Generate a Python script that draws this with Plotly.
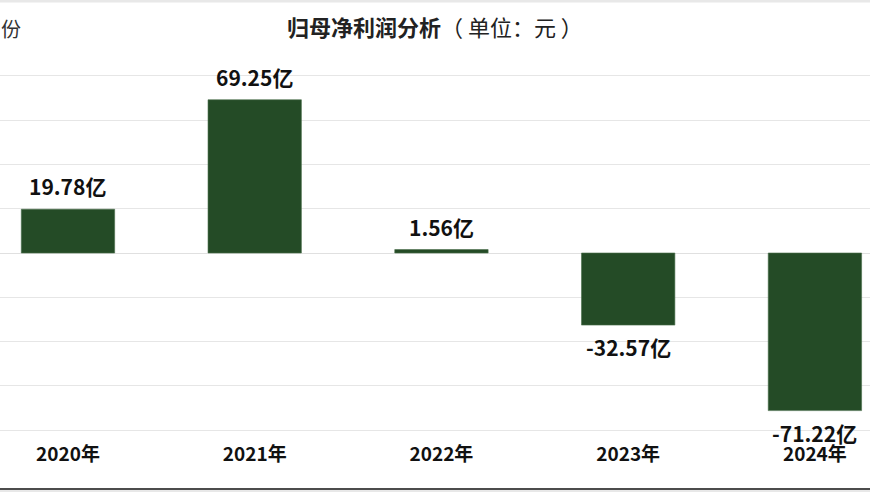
import plotly.graph_objects as go

years = ["2020年", "2021年", "2022年", "2023年", "2024年"]
profit_yi = [19.78, 69.25, 1.56, -32.57, -71.22]

title_main = "归母净利润分析"
title_unit = "（ 单位：元 ）"
axis_name = "份"  # only the tail of the axis name is visible in the reference

bar_color = "#244b26"
font_family = "Microsoft YaHei, Noto Sans CJK SC, sans-serif"

W, H = 870, 492
T, B = 66, 52
PH = H - T - B


def py(p):
    """pixel row from top -> paper y"""
    return (H - B - p) / PH


fig = go.Figure()
fig.add_trace(go.Bar(
    x=list(range(len(years))),
    y=profit_yi,
    width=0.5,
    marker=dict(color=bar_color, line=dict(color="#4a6e4b", width=0.6)),
    hoverinfo="skip",
))

annotations = []
for i, v in enumerate(profit_yi):
    annotations.append(dict(
        x=i, y=v, xref="x", yref="y",
        text=f"{v:.2f}亿", showarrow=False,
        xanchor="center", yanchor="middle",
        yshift=23 if v >= 0 else -22,
        font=dict(family=font_family, size=21, color="#111111", weight="bold"),
    ))

annotations += [
    dict(xref="paper", yref="paper", x=0.5, y=py(26),
         xanchor="center", yanchor="middle", showarrow=False,
         text="<b>" + title_main + "</b>" + title_unit,
         font=dict(family=font_family, size=22, color="#222222")),
    dict(xref="paper", yref="paper", x=23 / W, y=py(28),
         xanchor="right", yanchor="middle", showarrow=False,
         text=axis_name,
         font=dict(family=font_family, size=20, color="#333333")),
]

fig.update_layout(
    width=W, height=H,
    margin=dict(l=0, r=0, t=T, b=B),
    paper_bgcolor="white", plot_bgcolor="white",
    showlegend=False,
    font=dict(family=font_family),
    xaxis=dict(
        tickmode="array", tickvals=list(range(len(years))), ticktext=years,
        range=[-0.364, 4.295],
        showgrid=False, zeroline=False, showline=False,
        tickfont=dict(family=font_family, size=19, color="#111111", weight="bold"),
        ticklabelstandoff=1,
    ),
    yaxis=dict(
        range=[-84.5, 84.5],
        tickmode="linear", tick0=0, dtick=20,
        showticklabels=False,
        showgrid=True, gridcolor="#e6e6e6", gridwidth=1,
        zeroline=True, zerolinecolor="#e0e0e0", zerolinewidth=1,
        showline=False,
    ),
    shapes=[
        dict(type="rect", xref="paper", yref="paper", x0=0, x1=1,
             y0=py(2.5), y1=py(0), fillcolor="#e8e8e8", line=dict(width=0)),
        dict(type="line", xref="paper", yref="paper", x0=0, x1=1,
             y0=py(489), y1=py(489), line=dict(color="#111111", width=1.5)),
        dict(type="rect", xref="paper", yref="paper", x0=0, x1=1,
             y0=py(492), y1=py(490), fillcolor="#e8e8e8", line=dict(width=0)),
    ],
    annotations=annotations,
)

fig.write_html(
    "out.html",
    config={"displayModeBar": False},
    post_script="document.body.style.margin='0';document.body.style.overflow='hidden';",
)
